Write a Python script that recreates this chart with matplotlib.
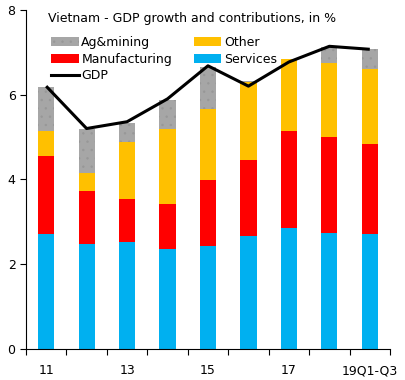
import numpy as np
import matplotlib.pyplot as plt
from matplotlib.lines import Line2D
from matplotlib.patches import Patch

# --- data (contributions, pp) ---
years = ["11", "12", "13", "14", "15", "16", "17", "18", "19Q1-Q3"]
services = [2.72, 2.48, 2.51, 2.36, 2.43, 2.67, 2.86, 2.74, 2.72]
manufacturing = [1.82, 1.25, 1.03, 1.06, 1.56, 1.79, 2.28, 2.27, 2.11]
other = [0.60, 0.43, 1.35, 1.77, 1.67, 1.83, 1.70, 1.74, 1.77]
ag_mining = [1.04, 1.03, 0.44, 0.69, 1.00, 0.02, 0.0, 0.38, 0.48]
gdp = [6.20, 5.20, 5.36, 5.90, 6.68, 6.20, 6.77, 7.14, 7.07]

plt.rcParams['font.family'] = ['DejaVu Sans']
plt.rcParams['hatch.linewidth'] = 0.5

fig = plt.figure(figsize=(4.05, 3.8), dpi=100)
ax = fig.add_axes([0.064, 0.082, 0.899, 0.892])

x = np.arange(len(years))
w = 0.4
s = np.array(services)
m = np.array(manufacturing)
o = np.array(other)
a = np.array(ag_mining)

ag_col = '#A6A6A6'
ag_hatch = '#979797'

ax.bar(x, s, w, color='#00B0F0', lw=0)
ax.bar(x, m, w, bottom=s, color='#FF0000', lw=0)
ax.bar(x, o, w, bottom=s + m, color='#FFC000', lw=0)
ax.bar(x, a, w, bottom=s + m + o, color=ag_col, edgecolor=ag_hatch,
       hatch='..', lw=0)
ax.plot(x, gdp, color='black', lw=2.2, solid_capstyle='butt')

ax.set_xlim(-0.5, len(years) - 0.5)
ax.set_ylim(0, 8)
ax.set_yticks([0, 2, 4, 6, 8])

# ticks between bars, labels under every other bar
ax.set_xticks(np.arange(-0.5, len(years), 1))
ax.set_xticklabels([])
ax.set_xticks(x[::2], minor=True)
ax.set_xticklabels([years[i] for i in x[::2]], minor=True)
ax.tick_params(axis='x', which='major', direction='out', length=4, width=0.8)
ax.tick_params(axis='x', which='minor', length=0, pad=11, labelsize=9)
ax.tick_params(axis='y', direction='out', length=4, width=0.8, labelsize=9)

for sp in ['top', 'right']:
    ax.spines[sp].set_visible(False)

ax.text(0.060, 0.993, "Vietnam - GDP growth and contributions, in %",
        transform=ax.transAxes, fontsize=9, va='top', ha='left')

handles = [
    Patch(facecolor=ag_col, edgecolor=ag_hatch, hatch='..', lw=0),
    Patch(facecolor='#FF0000', lw=0),
    Line2D([0], [0], color='black', lw=2.2),
    Patch(facecolor='#FFC000', lw=0),
    Patch(facecolor='#00B0F0', lw=0),
]
labels = ["Ag&mining", "Manufacturing", "GDP", "Other", "Services"]
ax.legend(handles, labels, ncol=2, loc='upper left',
          bbox_to_anchor=(0.056, 0.938), frameon=False, fontsize=9,
          handlelength=2.2, handletextpad=0.2, columnspacing=1.75,
          labelspacing=0.3, borderaxespad=0)

fig.savefig("out.png", dpi=100)
